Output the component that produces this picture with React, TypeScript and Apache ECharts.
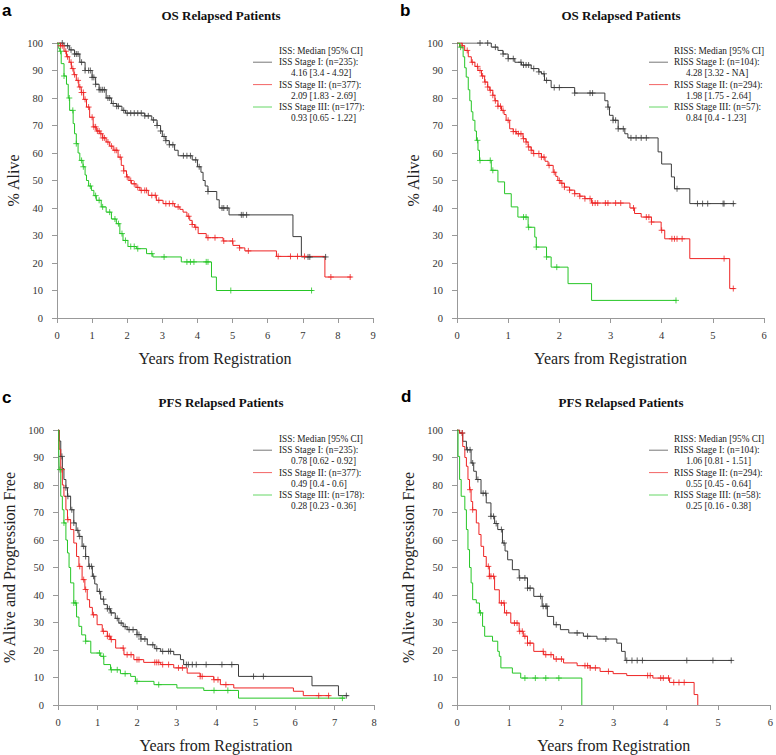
import React, { useEffect, useRef } from "react";
import * as echarts from "echarts";

// ---------- Data ----------
// Panel a: OS by ISS
const osIssI = [[0,100],[0.2,99],[0.35,97.5],[0.5,96],[0.65,93],[0.8,90],[1.0,87.5],[1.1,85],[1.2,83],[1.4,80],[1.55,78],[1.7,77],[1.85,75.5],[1.95,74.5],[2.5,73.5],[2.7,72],[2.85,70],[2.95,68],[3.0,66],[3.1,64.5],[3.2,63],[3.35,61],[3.45,59],[3.85,57.5],[4.0,55],[4.1,53],[4.16,50],[4.22,48],[4.3,46],[4.55,43],[4.62,40],[4.9,37.5],[6.72,29.6],[6.96,22.2],[7.67,22.2]];
const osIssII = [[0,100],[0.1,99],[0.2,97],[0.27,95],[0.35,93],[0.41,90.7],[0.48,88.5],[0.55,86.4],[0.62,84],[0.69,82],[0.76,79.5],[0.84,76.7],[0.93,73],[1.03,69.5],[1.12,68],[1.22,67],[1.3,65.5],[1.4,64],[1.5,62.5],[1.6,61],[1.74,58.5],[1.83,55.5],[1.9,53.5],[1.98,51.3],[2.05,50],[2.12,48.8],[2.25,47.5],[2.36,46.4],[2.6,44.6],[2.83,42.8],[3.02,41.6],[3.35,40.4],[3.5,39.5],[3.59,38.5],[3.7,37],[3.78,35.5],[3.85,34],[3.92,33],[4.02,30.7],[4.25,29.2],[4.73,28],[5.01,26.4],[5.2,25.5],[5.35,24.4],[6.25,22.4],[7.63,14.9],[8.39,14.9]];
const osIssIII = [[0,100],[0.05,98],[0.08,97],[0.12,92.5],[0.2,88],[0.27,85],[0.32,80],[0.36,75.5],[0.46,70.7],[0.5,67],[0.55,63.4],[0.6,60],[0.65,57.3],[0.74,55],[0.8,52],[0.84,50],[0.9,48],[0.98,46.4],[1.05,44.5],[1.12,42.8],[1.26,40.4],[1.4,38.5],[1.55,36],[1.69,34.3],[1.79,30.7],[1.88,28.2],[2.02,26],[2.26,25.2],[2.55,23.4],[2.73,22.2],[3.54,20.4],[4.4,14.9],[4.54,10],[7.29,10]];
const osIssICens = [0.15,0.3,0.4,0.5,0.55,0.6,0.7,0.8,0.9,0.95,1.0,1.05,1.1,1.2,1.25,1.3,1.35,1.45,1.5,1.6,1.7,1.75,1.9,2.0,2.1,2.2,2.3,2.4,2.5,2.6,2.75,2.85,2.95,3.05,3.1,3.2,3.3,3.6,3.7,3.8,3.95,4.05,4.3,4.7,4.75,4.85,5.25,5.3,5.4,7.15,7.2,7.65];
const osIssIICens = [0.1,0.15,0.25,0.3,0.4,0.45,0.5,0.6,0.65,0.7,0.75,0.8,0.9,1.0,1.05,1.1,1.15,1.2,1.25,1.3,1.35,1.45,1.55,1.65,1.7,1.8,1.9,2.0,2.1,2.2,2.3,2.4,2.5,2.55,2.7,2.8,2.9,3.1,3.2,3.3,3.45,3.75,3.85,3.95,4.3,4.5,4.75,5.0,5.2,5.45,6.3,6.65,6.85,7.05,7.8,8.35];
const osIssIIICens = [0.1,0.2,0.35,0.45,0.55,0.7,0.75,0.95,1.1,1.2,1.3,1.5,1.65,1.75,1.85,1.95,2.1,2.2,2.3,2.7,3.05,3.7,3.8,3.9,4.25,4.3,4.95,7.25];

// Panel b: OS by RISS
const osRissI = [[0,100],[0.6,100],[0.67,98.5],[0.8,97.3],[0.9,96],[1.0,94.3],[1.13,93],[1.26,92],[1.45,90.7],[1.6,89.5],[1.65,88.8],[1.71,86.4],[1.84,83.8],[2.3,81.8],[2.89,79],[2.95,76.7],[2.98,73.7],[3.05,71.9],[3.15,68.8],[3.28,67],[3.34,65.5],[3.93,60.4],[4.0,56],[4.19,51.3],[4.25,47],[4.55,41.6],[5.43,41.6]];
const osRissII = [[0,100],[0.1,99],[0.15,97.3],[0.22,95],[0.28,93],[0.35,91.5],[0.41,90],[0.48,88],[0.54,85.8],[0.6,84],[0.64,82.8],[0.7,81],[0.74,79],[0.8,77],[0.87,75.5],[0.92,74],[0.96,71.9],[1.03,68.8],[1.1,67.8],[1.16,67],[1.29,65.2],[1.35,64],[1.39,62.2],[1.45,61],[1.49,59.8],[1.65,58.5],[1.72,57],[1.78,55.5],[1.88,53],[1.93,51.5],[1.97,50],[2.03,49],[2.1,47.6],[2.2,46.5],[2.3,45.2],[2.4,44.3],[2.5,43.4],[2.63,41.8],[3.38,40],[3.47,38],[3.6,36.7],[3.8,34.9],[3.99,31.9],[4.06,28.8],[4.55,21.6],[5.33,10.7],[5.43,10.7]];
const osRissIII = [[0,100],[0.05,98.5],[0.12,95],[0.15,91],[0.18,87.6],[0.22,83],[0.25,79],[0.28,75],[0.31,71.9],[0.35,68],[0.38,64.6],[0.41,61],[0.44,57.3],[0.67,53.7],[0.8,49.5],[0.93,45.2],[1.06,40.4],[1.19,36.7],[1.39,33],[1.52,29.4],[1.55,25.8],[1.75,22.2],[1.84,18.5],[2.17,12.5],[2.63,6.4],[4.29,6.4]];
const osRissICens = [0.45,0.6,0.75,0.9,1.0,1.1,1.25,1.3,1.35,1.4,1.5,1.6,1.7,1.75,1.9,2.0,2.3,2.6,2.65,2.95,3.05,3.1,3.15,3.25,3.4,3.5,3.6,3.7,4.3,4.7,4.8,4.9,5.2,5.22,5.4];
const osRissIICens = [0.1,0.2,0.3,0.4,0.45,0.5,0.55,0.6,0.65,0.7,0.75,0.8,0.85,0.9,1.0,1.1,1.15,1.2,1.25,1.3,1.35,1.4,1.45,1.5,1.6,1.65,1.7,1.8,1.9,2.0,2.05,2.1,2.2,2.3,2.4,2.5,2.6,2.65,2.7,2.75,2.9,2.95,3.1,3.2,3.45,3.7,3.75,3.8,4.0,4.2,4.25,4.3,4.4,5.22,5.4];
const osRissIIICens = [0.07,0.4,0.45,0.65,0.7,1.3,1.35,1.4,1.55,1.75,1.95,4.28];

// Panel c: PFS by ISS
const pfsIssI = [[0,100],[0.03,96],[0.07,90.4],[0.11,86],[0.15,82],[0.2,79],[0.24,75.9],[0.32,71],[0.4,66.2],[0.46,63.5],[0.53,61.3],[0.61,57.7],[0.7,54],[0.78,50.4],[0.87,46.8],[0.93,44],[0.99,41.3],[1.08,38.5],[1.16,36.5],[1.25,35],[1.33,33.5],[1.45,31.5],[1.54,29.8],[1.65,28.5],[1.75,27.4],[2.0,25.6],[2.1,24],[2.26,21.9],[2.45,20.5],[2.6,19.5],[2.93,18.3],[3.1,16.5],[3.18,14.7],[4.57,10.4],[6.43,7],[7.1,3.4],[7.35,3.4]];
const pfsIssII = [[0,100],[0.03,93],[0.07,85.6],[0.11,80],[0.15,75.9],[0.2,71],[0.24,67.4],[0.32,63.8],[0.4,58.9],[0.47,54],[0.53,50.4],[0.61,45.6],[0.68,42],[0.74,38.3],[0.8,35.5],[0.87,32.8],[0.99,29.2],[1.12,26.8],[1.25,25],[1.33,23.8],[1.46,20.7],[1.67,18.3],[1.92,16.5],[2.17,15.5],[2.6,14.7],[2.93,13.5],[3.27,11.6],[3.6,10.4],[3.94,9.2],[4.11,7.4],[4.45,6.2],[5.96,5],[6.21,3.4],[6.89,3.4]];
const pfsIssIII = [[0,100],[0.02,92],[0.03,85.6],[0.07,75.9],[0.11,71],[0.15,66.2],[0.2,60],[0.24,55.3],[0.28,50],[0.32,44.4],[0.4,37.1],[0.47,32],[0.53,28.6],[0.6,25.5],[0.7,23.2],[0.83,18.9],[1.08,17.7],[1.16,14.7],[1.33,12.8],[1.58,11.4],[1.84,10.4],[1.96,8.6],[2.43,7.4],[3.01,6.2],[3.69,5.3],[4.57,2.5],[7.27,2.5]];
const pfsIssICens = [0.1,0.2,0.25,0.35,0.4,0.5,0.55,0.65,0.7,0.8,0.85,0.9,1.05,1.15,1.25,1.3,1.35,1.5,1.6,1.7,1.8,1.9,2.0,2.05,2.1,2.2,2.4,2.5,2.65,2.8,2.85,3.25,3.3,3.4,3.5,3.75,4.15,4.4,4.95,5.2,7.3];
const pfsIssIICens = [0.1,0.25,0.55,0.65,0.7,0.9,1.15,1.25,1.3,1.35,1.65,1.75,1.85,2.0,2.05,2.45,2.5,2.55,2.65,2.8,3.05,3.15,3.6,3.65,3.95,4.05,4.25,6.6,6.85];
const pfsIssIIICens = [0.05,0.15,0.4,0.45,0.7,1.05,1.15,1.35,1.5,1.7,2.0,2.55,3.95,4.3,7.2];

// Panel d: PFS by RISS
const pfsRissI = [[0,100],[0.05,98.9],[0.11,95.9],[0.18,92.8],[0.27,88],[0.32,85],[0.37,82],[0.46,77],[0.56,73.5],[0.65,68.6],[0.72,66],[0.78,63.8],[0.87,58.9],[0.92,56],[0.97,52.8],[1.06,49.2],[1.19,46.2],[1.35,42.5],[1.47,39.5],[1.63,35.9],[1.73,32.2],[1.85,29.2],[1.98,27.4],[2.14,26.2],[2.42,25],[2.68,24],[3.06,22.5],[3.15,19.5],[3.22,16.2],[5.27,16.2]];
const pfsRissII = [[0,100],[0.05,98.9],[0.11,94],[0.15,90],[0.18,86.8],[0.21,82],[0.24,78.3],[0.27,74],[0.3,71],[0.37,66.2],[0.42,62],[0.46,57.7],[0.51,54],[0.56,50.4],[0.62,46.8],[0.72,41.9],[0.81,37.1],[0.91,33.5],[1.03,29.8],[1.19,26.8],[1.27,25],[1.35,22.5],[1.47,19.5],[1.66,18.3],[1.85,16.7],[2.04,15.3],[2.3,14.3],[2.55,13.5],[2.74,12.2],[2.99,11.4],[3.25,10.7],[3.75,9.8],[4.07,8.2],[4.54,3.8],[4.61,0]];
const pfsRissIII = [[0,100],[0.02,90.4],[0.05,82],[0.08,75.9],[0.15,71],[0.18,63.8],[0.21,56.5],[0.24,50],[0.27,44.4],[0.3,38.3],[0.37,37.1],[0.43,33.5],[0.49,28.6],[0.53,25],[0.68,23.2],[0.78,19.5],[0.81,17.7],[0.84,13.5],[1.06,11.6],[1.22,9.8],[2.39,0]];
const pfsRissICens = [0.1,0.2,0.25,0.3,0.4,0.5,0.55,0.65,0.7,0.75,0.85,0.9,1.2,1.3,1.35,1.4,1.6,1.65,1.7,1.72,1.9,2.3,2.5,2.85,3.25,3.35,3.45,3.55,4.4,4.9,5.25];
const pfsRissIICens = [0.1,0.25,0.3,0.6,0.62,0.65,0.7,0.85,0.9,0.95,1.1,1.15,1.2,1.25,1.3,1.35,1.4,1.65,1.7,1.8,1.9,2.0,2.45,2.5,2.55,2.65,2.9,3.65,3.7,3.9,3.95,4.05,4.15,4.25,4.35];
const pfsRissIIICens = [0.45,1.3,1.5,1.7,1.95];

// Text
const panelLetters = ["a", "b", "c", "d"];
const panelTitles = ["OS Relapsed Patients", "OS Relapsed Patients", "PFS Relapsed Patients", "PFS Relapsed Patients"];
const yTitles = ["% Alive", "% Alive", "% Alive and Progression Free", "% Alive and Progression Free"];
const xTitle = "Years from Registration";
const xMaxes = [9, 6, 8, 6];
const legendHeaders = ["ISS: Median [95% CI]", "RISS: Median [95% CI]", "ISS: Median [95% CI]", "RISS: Median [95% CI]"];
const legendLabels = [
  ["ISS Stage I: (n=235):", "ISS Stage II: (n=377):", "ISS Stage III: (n=177):"],
  ["RISS Stage I: (n=104):", "RISS Stage II: (n=294):", "RISS Stage III: (n=57):"],
  ["ISS Stage I: (n=235):", "ISS Stage II: (n=377):", "ISS Stage III: (n=178):"],
  ["RISS Stage I: (n=104):", "RISS Stage II: (n=294):", "RISS Stage III: (n=58):"],
];
const legendMedians = [
  ["4.16 [3.4 - 4.92]", "2.09 [1.83 - 2.69]", "0.93 [0.65 - 1.22]"],
  ["4.28 [3.32 - NA]", "1.98 [1.75 - 2.64]", "0.84 [0.4 - 1.23]"],
  ["0.78 [0.62 - 0.92]", "0.49 [0.4 - 0.6]", "0.28 [0.23 - 0.36]"],
  ["1.06 [0.81 - 1.51]", "0.55 [0.45 - 0.64]", "0.25 [0.16 - 0.38]"],
];

const curves = [
  [osIssI, osIssII, osIssIII],
  [osRissI, osRissII, osRissIII],
  [pfsIssI, pfsIssII, pfsIssIII],
  [pfsRissI, pfsRissII, pfsRissIII],
];
const censors = [
  [osIssICens, osIssIICens, osIssIIICens],
  [osRissICens, osRissIICens, osRissIIICens],
  [pfsIssICens, pfsIssIICens, pfsIssIIICens],
  [pfsRissICens, pfsRissIICens, pfsRissIIICens],
];

// ---------- Layout / style ----------
const SERIF = "'Liberation Serif', 'Times New Roman', serif";
const SANS = "'Liberation Sans', Arial, sans-serif";
const COLORS = ["#3c3c3c", "#ee2424", "#26c626"];
const grids = [
  { left: 57, top: 43, width: 316, height: 275 },
  { left: 457, top: 43, width: 307, height: 275 },
  { left: 57, top: 430, width: 317, height: 275 },
  { left: 457, top: 430, width: 316, height: 275 },
];
const yNameGaps = [36, 36, 41, 41];
const letterPos = [[2, 10], [400, 10], [2, 397], [401, 396]];
const titlePos = [[221, 15], [621, 15], [221, 402], [621, 402]];
const legendPos = [
  { x: 279, y: 51, lx: 253, vx: 291 },
  { x: 674, y: 51, lx: 649, vx: 686 },
  { x: 279, y: 439, lx: 253, vx: 291 },
  { x: 674, y: 439, lx: 649, vx: 686 },
];

function valueAt(curve: number[][], t: number): number {
  let v = curve[0][1];
  for (const p of curve) {
    if (p[0] <= t) v = p[1];
    else break;
  }
  return v;
}

function buildOption() {
  const grid: any[] = [];
  const xAxis: any[] = [];
  const yAxis: any[] = [];
  const series: any[] = [];
  const graphic: any[] = [];
  const axisCommon = {
    axisLine: { lineStyle: { color: "#999", width: 1 } },
    axisTick: { show: true, length: 5, lineStyle: { color: "#999" } },
    splitLine: { show: false },
  };
  for (let i = 0; i < 4; i++) {
    grid.push({ ...grids[i], containLabel: false });
    xAxis.push({
      ...axisCommon,
      type: "value",
      gridIndex: i,
      min: 0,
      max: xMaxes[i],
      interval: 1,
      name: xTitle,
      nameLocation: "middle",
      nameGap: 32,
      nameTextStyle: { fontFamily: SERIF, fontSize: 16, color: "#222" },
      axisLabel: { fontFamily: SERIF, fontSize: 10.5, color: "#333", margin: 12 },
    });
    yAxis.push({
      ...axisCommon,
      type: "value",
      gridIndex: i,
      min: 0,
      max: 100,
      interval: 10,
      name: yTitles[i],
      nameLocation: "middle",
      nameGap: yNameGaps[i],
      nameTextStyle: { fontFamily: SERIF, fontSize: 16, color: "#222" },
      axisLabel: { fontFamily: SERIF, fontSize: 10.5, color: "#333", margin: 14 },
    });
    for (let j = 0; j < 3; j++) {
      const c = curves[i][j];
      series.push({
        type: "line",
        xAxisIndex: i,
        yAxisIndex: i,
        step: "end",
        data: c,
        showSymbol: false,
        symbol: "none",
        silent: true,
        lineStyle: { color: COLORS[j], width: 1 },
        z: 2 + j,
      });
      series.push({
        type: "scatter",
        xAxisIndex: i,
        yAxisIndex: i,
        data: censors[i][j].map((t) => [t, valueAt(c, t)]),
        symbol: "path://M5,0L5,10M0,5L10,5",
        symbolSize: 6,
        silent: true,
        itemStyle: { color: "none", borderColor: COLORS[j], borderWidth: 1 },
        z: 5 + j,
      });
    }
    // panel letter
    graphic.push({
      type: "text",
      x: letterPos[i][0],
      y: letterPos[i][1],
      style: {
        text: panelLetters[i],
        fontFamily: SANS,
        fontWeight: "bold",
        fontSize: 17,
        fill: "#000",
        textVerticalAlign: "middle",
        verticalAlign: "middle",
      },
    });
    // title
    graphic.push({
      type: "text",
      x: titlePos[i][0],
      y: titlePos[i][1],
      style: {
        text: panelTitles[i],
        fontFamily: SERIF,
        fontWeight: "bold",
        fontSize: 13,
        fill: "#111",
        textAlign: "center",
        align: "center",
        textVerticalAlign: "middle",
        verticalAlign: "middle",
      },
    });
    // legend
    const lp = legendPos[i];
    const step = 11.2;
    const legText = (text: string, x: number, y: number) => ({
      type: "text",
      x,
      y,
      style: {
        text,
        fontFamily: SERIF,
        fontSize: 9.3,
        fill: "#222",
        textVerticalAlign: "middle",
        verticalAlign: "middle",
      },
    });
    graphic.push(legText(legendHeaders[i], lp.x, lp.y));
    for (let j = 0; j < 3; j++) {
      const yl = lp.y + step * (1 + 2 * j);
      graphic.push({
        type: "line",
        shape: { x1: lp.lx, y1: yl, x2: lp.lx + 19, y2: yl },
        style: { stroke: COLORS[j], lineWidth: 1, opacity: 0.7 },
      });
      graphic.push(legText(legendLabels[i][j], lp.x, yl));
      graphic.push(legText(legendMedians[i][j], lp.vx, yl + step));
    }
  }
  return {
    animation: false,
    backgroundColor: "#fff",
    grid,
    xAxis,
    yAxis,
    series,
    graphic,
  };
}

export default function App() {
  const ref = useRef<HTMLDivElement>(null);
  useEffect(() => {
    if (!ref.current) return;
    const chart = echarts.init(ref.current, undefined, { renderer: "svg" });
    chart.setOption(buildOption() as any);
    return () => chart.dispose();
  }, []);
  return (
    <div
      ref={ref}
      style={{ position: "absolute", left: 0, top: 0, width: 776, height: 755, background: "#fff" }}
    />
  );
}
